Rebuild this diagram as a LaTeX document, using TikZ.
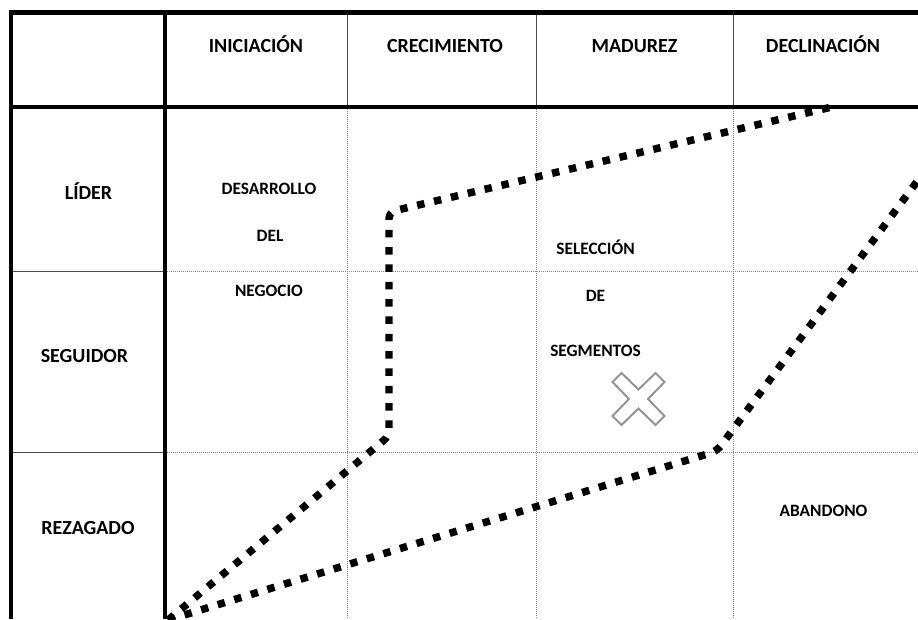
\documentclass[tikz,border=0pt]{standalone}
\usepackage{fontspec}
\setmainfont{Carlito}
\usepackage{xcolor}
\usepackage{tikz}
\usetikzlibrary{arrows,calc,positioning}
\tikzstyle{frame}=[line width=3pt]
\tikzstyle{sep}=[draw=black!70,line width=0.75pt]
\tikzstyle{grid}=[draw=black!45,line width=0.75pt,dash pattern=on 0.75pt off 0.75pt]
\tikzstyle{hdr}=[anchor=base,inner sep=0pt,font=\fontsize{15}{18}\selectfont\bfseries]
\tikzstyle{txt}=[anchor=base,inner sep=0pt,font=\fontsize{13}{15}\selectfont\bfseries]
\tikzstyle{trend}=[line width=5.6pt,dash pattern=on 5.6pt off 7.4pt,rounded corners=5pt]
\tikzstyle{xmark}=[draw=black!42,line width=1.5pt,line join=miter]

\begin{document}
\begin{tikzpicture}[
            x=0.75pt,y=-0.75pt,
            >=latex'
        ]
        \useasboundingbox (0,0) rectangle (918,619);
        \clip (0,0) rectangle (918,619);
        % grid
        \foreach \cx in {347,536,733} {
            \draw[sep] (\cx,12) -- (\cx,107);
            \draw[grid] (\cx,107) -- (\cx,619);
        }
        \foreach \ry in {271,452} {
            \draw[sep] (11,\ry) -- (165,\ry);
            \draw[grid] (165,\ry) -- (918,\ry);
        }
        % frame
        \draw[frame,line width=3.75pt] (9,12.5) -- (918,12.5);
        \draw[frame] (11,10) -- (11,619);
        \draw[frame,line width=2.6pt] (165,12.5) -- (165,619);
        \draw[frame] (11,107) -- (918,107);
        % headers
        \node [hdr] (ini) at (256,52.5) {INICIACIÓN};
        \node [hdr] (cre) at (445,52.5) {CRECIMIENTO};
        \node [hdr] (mad) at (634.5,52.5) {MADUREZ};
        \node [hdr] (dec) at (823,52.5) {DECLINACIÓN};
        \node [hdr] (lid) at (88.5,199) {LÍDER};
        \node [hdr] (seg) at (84.5,362) {SEGUIDOR};
        \node [hdr] (rez) at (88,534) {REZAGADO};
        % cells
        \node [txt] (des) at (269,194) {DESARROLLO};
        \node [txt] (del) at (270,241) {DEL};
        \node [txt] (neg) at (269,296.5) {NEGOCIO};
        \node [txt] (sel) at (595.5,254) {SELECCIÓN};
        \node [txt] (de)  at (595.5,301.5) {DE};
        \node [txt] (sgm) at (595.5,356.5) {SEGMENTOS};
        \node [txt] (aba) at (823.5,516) {ABANDONO};
        \draw[xmark,shift={(638.5,399)}] (-26,-17) -- (-17,-26) -- (0,-9.5) -- (17,-26) -- (26,-17)
            -- (9.5,0) -- (26,17) -- (17,26) -- (0,9.5) -- (-17,26) -- (-26,17) -- (-9.5,0) -- cycle;
        % paths
        \coordinate (o)  at (168,620);
        \coordinate (ua) at (389,436);
        \coordinate (ub) at (389,212);
        \coordinate (ue) at (836,106);
        \coordinate (la) at (717,451);
        \coordinate (le) at (930,164);
        \draw[trend] (o) -- (ua) -- (ub) -- (ue);
        \draw[trend] (o) -- (la) -- (le);
    \end{tikzpicture}
\end{document}
